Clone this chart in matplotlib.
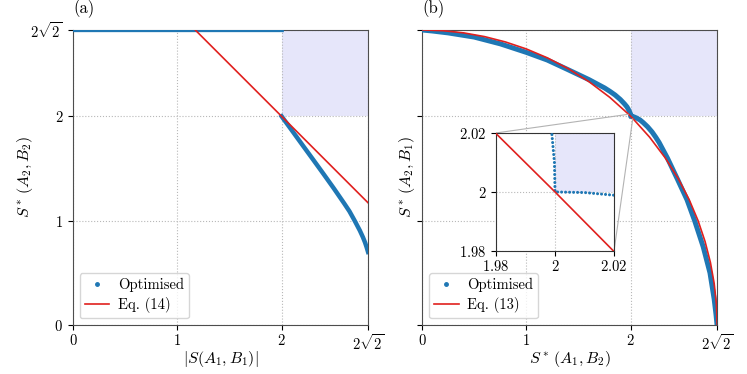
import numpy as np
import matplotlib
matplotlib.use('Agg')
import matplotlib.pyplot as plt
from matplotlib.lines import Line2D
from mpl_toolkits.axes_grid1.inset_locator import mark_inset

plt.rcParams['font.family'] = 'serif'
plt.rcParams['font.serif'] = ['cmr10']
plt.rcParams['mathtext.fontset'] = 'cm'
plt.rcParams['axes.unicode_minus'] = False
plt.rcParams['axes.formatter.use_mathtext'] = True

R = 2 * np.sqrt(2)
nan = float('nan')

# panel (a): optimised points and Eq. (14)
a_opt_x = [0.0, 2.0, nan, 2.0, 2.1, 2.2, 2.3, 2.4, 2.5, 2.6, 2.65, 2.7, 2.75, 2.78, 2.80, 2.815, 2.8284]
a_opt_y = [2.8284, 2.8284, nan, 2.0, 1.863, 1.725, 1.588, 1.45, 1.31, 1.165, 1.09, 1.0, 0.905, 0.84, 0.79, 0.745, 0.70]
a_eq_x = [1.1716, 2.8284]
a_eq_y = [2.8284, 1.1716]

# panel (b): optimised points and Eq. (13)
b_opt_x = [0.0, 0.1, 0.25, 0.5, 0.75, 1.0, 1.2, 1.4, 1.6, 1.75, 1.8, 1.85, 1.9, 1.94, 1.965, 1.982, 1.993,
           1.9989, 1.9998, 2.0,
           2.01, 2.02, 2.035, 2.06, 2.09, 2.12, 2.162, 2.205, 2.24, 2.272, 2.352, 2.447, 2.54, 2.613, 2.695,
           2.76, 2.80, 2.818, 2.828]
b_opt_y = [2.828, 2.818, 2.80, 2.76, 2.695, 2.613, 2.54, 2.447, 2.352, 2.272, 2.24, 2.205, 2.162, 2.12, 2.09,
           2.06, 2.035, 2.02, 2.01, 2.0,
           1.9998, 1.9989, 1.993, 1.982, 1.965, 1.94, 1.9, 1.85, 1.8, 1.75, 1.6, 1.4, 1.2, 1.0, 0.75,
           0.5, 0.25, 0.1, 0.0]
b_eq_x = [0.0, 0.2, 0.4, 0.6, 0.8, 1.0, 1.2, 1.4, 1.6, 1.8, 1.98, 2.0, 2.0198,
          2.1817, 2.3324, 2.4576, 2.5612, 2.6458, 2.7129, 2.7641, 2.8, 2.8213, 2.8284]
b_eq_y = [2.8284, 2.8213, 2.8, 2.7641, 2.7129, 2.6458, 2.5612, 2.4576, 2.3324, 2.1817, 2.0198, 2.0, 1.98,
          1.8, 1.6, 1.4, 1.2, 1.0, 0.8, 0.6, 0.4, 0.2, 0.0]

ticks = [0, 1, 2, R]
tick_labels = ['$0$', '$1$', '$2$', r'$2\sqrt{2}$']
inset_ticks = [1.98, 2.0, 2.02]
inset_labels = ['$1.98$', '$2$', '$2.02$']

BLUE = '#1f77b4'
RED = '#e0201e'
SHADE = '#e6e6fa'


def style_axes(ax, show_ylabels=True):
    ax.set_xlim(0, R)
    ax.set_ylim(0, R)
    ax.set_xticks(ticks)
    ax.set_xticklabels(tick_labels, fontsize=10.5)
    ax.set_yticks(ticks)
    ax.set_yticklabels(tick_labels if show_ylabels else [], fontsize=10.5)
    ax.tick_params(axis='x', pad=2.5)
    ax.grid(True, ls=':', color='#b8b8b8', lw=0.8)
    ax.fill_between([2, R], 2, R, color=SHADE, lw=0, zorder=0.8)
    for s in ax.spines.values():
        s.set_color('0.3')


def add_legend(ax, handles, labels):
    ax.legend(handles, labels, loc='lower left', fontsize=10.5,
              handlelength=1.7, handletextpad=0.6, borderaxespad=0.45,
              labelspacing=0.35, borderpad=0.35)


fig = plt.figure(figsize=(7.47, 3.74), dpi=100)
ax1 = fig.add_axes([0.0977, 0.131, 0.395, 0.789])
ax2 = fig.add_axes([0.565, 0.131, 0.395, 0.789])

opt_handle = Line2D([], [], ls='none', marker='.', color=BLUE, markersize=5)

# (a)
style_axes(ax1)
ax1.plot(a_opt_x, a_opt_y, color=BLUE, lw=3.2, zorder=3)
eq14, = ax1.plot(a_eq_x, a_eq_y, color=RED, lw=1.2, zorder=4)
ax1.set_xlabel(r'$|S(A_1, B_1)|$', fontsize=11.5)
ax1.set_ylabel(r'$S^*\,(A_2, B_2)$', fontsize=11.5)
ax1.xaxis.set_label_coords(0.5, -0.08)
ax1.yaxis.set_label_coords(-0.129, 0.5)
ax1.set_title('(a)', loc='left', fontsize=12, pad=12)
add_legend(ax1, [opt_handle, eq14], ['Optimised', 'Eq. (14)'])

# (b)
style_axes(ax2, show_ylabels=False)
ax2.plot(b_opt_x, b_opt_y, color=BLUE, lw=3.6, zorder=3)
eq13, = ax2.plot(b_eq_x, b_eq_y, color=RED, lw=1.2, zorder=4)
ax2.set_xlabel(r'$S^*\,(A_1, B_2)$', fontsize=11.5)
ax2.set_ylabel(r'$S^*\,(A_2, B_1)$', fontsize=11.5)
ax2.xaxis.set_label_coords(0.5, -0.08)
ax2.yaxis.set_label_coords(-0.017, 0.5)
ax2.set_title('(b)', loc='left', fontsize=12, pad=12)
add_legend(ax2, [opt_handle, eq13], ['Optimised', 'Eq. (13)'])

# inset zoom around (2, 2)
axins = fig.add_axes([0.664, 0.329, 0.158, 0.3155])
axins.set_xlim(1.98, 2.02)
axins.set_ylim(1.98, 2.02)
axins.fill_between([2, 2.02], 2, 2.02, color=SHADE, lw=0, zorder=0.8)
axins.plot(b_opt_x, b_opt_y, color=BLUE, lw=2.2, ls=(0, (0.01, 1.3)),
           dash_capstyle='round', zorder=3)
axins.plot(b_eq_x, b_eq_y, color=RED, lw=1.2, zorder=4)
axins.set_xticks(inset_ticks)
axins.set_xticklabels(inset_labels, fontsize=10.5)
axins.set_yticks(inset_ticks)
axins.set_yticklabels(inset_labels, fontsize=10.5)
axins.tick_params(axis='x', pad=2)
axins.grid(True, ls=':', color='#b8b8b8', lw=0.8)
for s in axins.spines.values():
    s.set_color('0.2')
mark_inset(ax2, axins, loc1=2, loc2=4, fc='none', ec='0.7', lw=0.8)

fig.savefig('out.png', dpi=100)
